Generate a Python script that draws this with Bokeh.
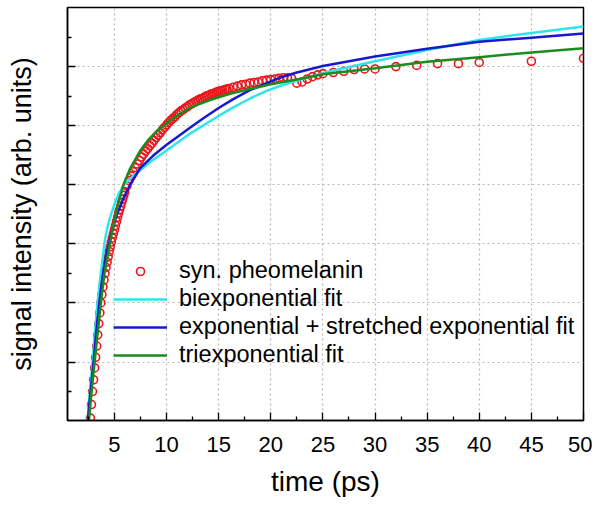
from bokeh.plotting import figure
from bokeh.models import Range1d, FixedTicker, Legend, LegendItem, CustomJSTickFormatter
from bokeh.embed import file_html
from bokeh.resources import INLINE

# ---- measured data: syn. pheomelanin ----
data_t = [2.6, 2.7, 2.8, 2.9, 3.0, 3.1, 3.2, 3.3, 3.4, 3.5, 3.6, 3.7, 3.8, 3.9, 4.0,
          4.1, 4.2, 4.3, 4.4, 4.5, 4.6, 4.7, 4.8, 4.9, 5.0, 5.1, 5.2, 5.3, 5.4, 5.5,
          5.6, 5.7, 5.8, 5.9, 6.0, 6.2, 6.4, 6.6, 6.8, 7.0, 7.2, 7.4, 7.6, 7.8, 8.0,
          8.2, 8.4, 8.6, 8.8, 9.0, 9.2, 9.4, 9.6, 9.8, 10.0, 10.2, 10.4, 10.6, 10.8,
          11.0, 11.2, 11.4, 11.6, 11.8, 12.0, 12.2, 12.4, 12.6, 12.8, 13.0, 13.2,
          13.4, 13.6, 13.8, 14.0, 14.2, 14.4, 14.6, 14.8, 15.0, 15.2, 15.4, 15.6,
          15.8, 16.0, 16.4, 16.8, 17.2, 17.6, 18.0, 18.4, 18.8, 19.2, 19.6, 20.0,
          20.4, 20.8, 21.2, 21.6, 22.0, 22.5, 23.0, 23.5, 24.0, 24.5, 25, 26, 27,
          28, 29, 30, 32, 34, 36, 38, 40, 45, 50]
data_y = [-0.1, 0.05, 0.28, 0.5, 0.70, 0.90, 1.08, 1.27, 1.46, 1.65, 1.83, 2.00, 2.14,
          2.27, 2.39, 2.50, 2.60, 2.69, 2.78, 2.87, 2.95, 3.03, 3.10, 3.17, 3.24, 3.31,
          3.38, 3.45, 3.52, 3.58, 3.64, 3.70, 3.76, 3.82, 3.88, 3.98, 4.07, 4.15, 4.22,
          4.29, 4.35, 4.41, 4.47, 4.52, 4.57, 4.61, 4.66, 4.70, 4.75, 4.80, 4.84, 4.88,
          4.93, 4.97, 5.01, 5.05, 5.09, 5.12, 5.15, 5.19, 5.22, 5.25, 5.27, 5.30, 5.32,
          5.35, 5.37, 5.39, 5.41, 5.43, 5.45, 5.46, 5.48, 5.50, 5.51, 5.53, 5.54, 5.55,
          5.57, 5.58, 5.59, 5.60, 5.61, 5.62, 5.63, 5.65, 5.67, 5.69, 5.70, 5.72, 5.73,
          5.74, 5.76, 5.77, 5.78, 5.79, 5.80, 5.81, 5.81, 5.80, 5.72, 5.74, 5.79, 5.83,
          5.86, 5.88, 5.90, 5.92, 5.95, 5.96, 5.96, 6.00, 6.02, 6.05, 6.05, 6.07, 6.09,
          6.14]

# ---- biexponential fit ----
bi_t = [2.3, 2.42, 2.6, 2.8, 2.95, 3.15, 3.38, 3.6, 3.85, 4.12, 4.4, 4.7, 5.09, 5.45,
        5.87, 6.5, 7.3, 8.4, 10, 12.3, 14.4, 16.1, 18, 19.6, 21, 23, 25, 30, 35, 40,
        45, 50]
bi_y = [-0.25, 0.0, 0.4, 0.8, 1.1, 1.55, 2.0, 2.35, 2.72, 3.10, 3.33, 3.51, 3.71, 3.86,
        3.99, 4.10, 4.22, 4.38, 4.58, 4.87, 5.10, 5.28, 5.46, 5.59, 5.68, 5.79, 5.89,
        6.09, 6.28, 6.45, 6.57, 6.68]

# ---- exponential + stretched exponential fit ----
st_t = [2.35, 2.45, 2.6, 2.8, 3.0, 3.25, 3.55, 3.85, 4.2, 4.6, 5.2, 5.87, 6.5, 7.48,
        8.7, 10.04, 11.2, 12.28, 13.5, 15, 16.4, 18, 19.6, 21, 22.5, 25, 30, 35, 40,
        45, 50]
st_y = [-0.2, 0.0, 0.3, 0.66, 1.0, 1.5, 2.0, 2.43, 2.8, 3.1, 3.48, 3.77, 4.0, 4.28,
        4.49, 4.68, 4.83, 4.97, 5.12, 5.30, 5.45, 5.60, 5.72, 5.82, 5.90, 6.01, 6.17,
        6.30, 6.42, 6.49, 6.56]

# ---- triexponential fit ----
tri_t = [2.45, 2.55, 2.8, 3.1, 3.4, 3.7, 4.05, 4.3, 4.76, 5.25, 5.87, 6.5, 7.48, 8.3,
         9.08, 10.04, 11.1, 12.28, 13.2, 14.1, 15, 16.1, 18, 20, 22.5, 25, 30, 35, 40,
         45, 50]
tri_y = [-0.2, 0.0, 0.48, 1.0, 1.5, 2.0, 2.5, 2.75, 3.18, 3.6, 4.0, 4.27, 4.58, 4.77,
         4.91, 5.05, 5.18, 5.30, 5.37, 5.43, 5.48, 5.54, 5.62, 5.70, 5.78, 5.87, 5.97,
         6.08, 6.16, 6.24, 6.31]

x_major = [5, 10, 15, 20, 25, 30, 35, 40, 45, 50]
x_minor = [2.5, 7.5, 12.5, 17.5, 22.5, 27.5, 32.5, 37.5, 42.5, 47.5]
y_major = [1, 2, 3, 4, 5, 6]
y_minor = [0.5, 1.5, 2.5, 3.5, 4.5, 5.5, 6.5]

labels = ["syn. pheomelanin", "biexponential fit",
          "exponential + stretched exponential fit", "triexponential fit"]

FONT = "Liberation Sans"
RED = "#e8161c"
CYAN = "#2ee6ea"
BLUE = "#1818d0"
GREEN = "#1c8a1c"

p = figure(width=592, height=499, output_backend="svg", toolbar_location=None,
           x_range=Range1d(0.5, 50), y_range=Range1d(0.01, 7.0),
           min_border_left=67, min_border_right=9, min_border_top=7,
           min_border_bottom=75)
p.background_fill_color = "white"
p.border_fill_color = "white"
p.outline_line_color = "black"
p.outline_line_width = 1.5
p.outline_line_alpha = 1.0

p.xaxis.ticker = FixedTicker(ticks=x_major, minor_ticks=x_minor)
p.yaxis.ticker = FixedTicker(ticks=y_major, minor_ticks=y_minor)
for ax in (p.xaxis, p.yaxis):
    ax.axis_line_width = 1.5
    ax.axis_line_color = "black"
    ax.major_tick_in = 8
    ax.major_tick_out = 0
    ax.minor_tick_in = 4
    ax.minor_tick_out = 0
    ax.major_tick_line_width = 1.3
    ax.minor_tick_line_width = 1.3
    ax.major_tick_line_color = "black"
    ax.minor_tick_line_color = "black"
    ax.axis_label_text_font = FONT
    ax.axis_label_text_font_style = "normal"
    ax.axis_label_text_color = "black"
    ax.major_label_text_font = FONT
    ax.major_label_text_color = "black"

p.xaxis.axis_label = "time (ps)"
p.xaxis.axis_label_text_font_size = "28px"
p.xaxis.major_label_text_font_size = "22px"
p.xaxis.major_label_standoff = 16
p.xaxis.axis_label_standoff = 11

p.yaxis.axis_label = "signal intensity (arb. units)"
p.yaxis.axis_label_text_font_size = "27px"
p.yaxis.formatter = CustomJSTickFormatter(code="return '';")
p.yaxis.major_label_standoff = 0
p.yaxis.axis_label_standoff = 31

for g in (p.xgrid, p.ygrid):
    g.grid_line_color = "#b8b8b8"
    g.grid_line_dash = "2 3"
    g.grid_line_width = 1.2

r_data = p.scatter(data_t, data_y, marker="circle", size=8, fill_color=None,
                   line_color=RED, line_width=1.6)
r_bi = p.line(bi_t, bi_y, line_color=CYAN, line_width=2.5)
r_st = p.line(st_t, st_y, line_color=BLUE, line_width=2.5)
r_tri = p.line(tri_t, tri_y, line_color=GREEN, line_width=2.5)

legend = Legend(items=[LegendItem(label=labels[0], renderers=[r_data]),
                       LegendItem(label=labels[1], renderers=[r_bi]),
                       LegendItem(label=labels[2], renderers=[r_st]),
                       LegendItem(label=labels[3], renderers=[r_tri])],
                location=(46, 52), border_line_color=None,
                background_fill_alpha=0, padding=0, margin=0, spacing=1,
                label_standoff=12, glyph_width=54, glyph_height=20,
                label_text_font=FONT, label_text_font_size="23.5px",
                label_text_color="black")
p.add_layout(legend)

open("out.html", "w").write(file_html(p, INLINE))
